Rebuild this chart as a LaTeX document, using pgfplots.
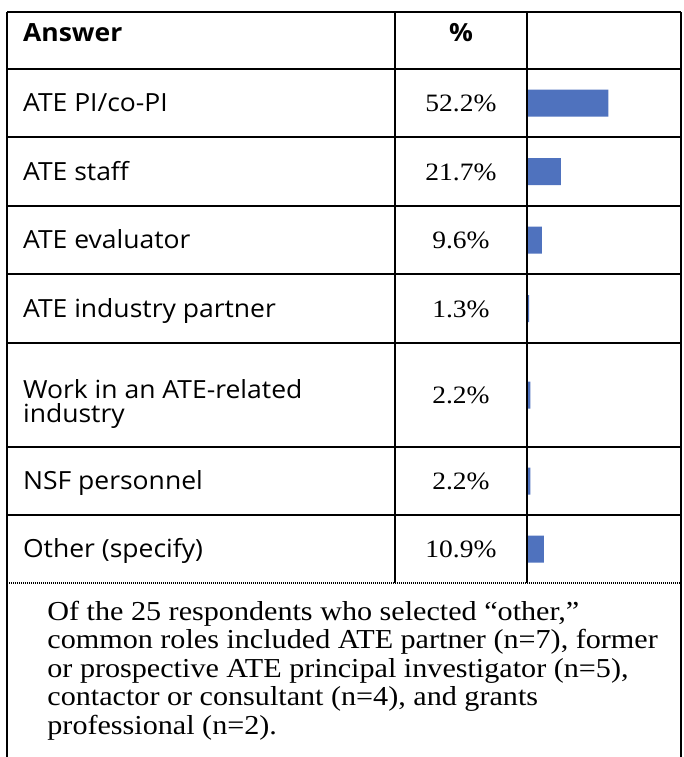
\documentclass[border=0pt]{standalone}
\usepackage{pgfplots}
\pgfplotsset{compat=1.18}
\usepackage{fontspec}
\setmainfont[FakeStretch=1.1]{Liberation Serif}
\newfontfamily\tsans[FakeStretch=1.06]{Open Sans}
\definecolor{barblue}{RGB}{79,114,190}
\begin{document}
\begin{tikzpicture}
% bars (one axis, placed in the third column)
\begin{axis}[
  at={(263.5pt,-291.5pt)}, anchor=south west,
  scale only axis, width=77pt, height=257pt,
  xmin=0, xmax=98.9, ymin=-583, ymax=-69,
  hide axis, xbar, bar width=13.5pt,
]
\addplot[draw=none, fill=barblue] coordinates {
  (52.2,-103) (21.7,-171.5) (9.6,-240) (1.3,-308.5) (2.2,-395) (2.2,-481) (10.9,-549)
};
\end{axis}
\begin{scope}[x=0.5pt,y=-0.5pt]
  \path[use as bounding box] (0,0) rectangle (684,757);
  \begin{scope}[line width=1.15pt, black]
    \draw (7,12) -- (681,12);
    \foreach \yy in {69,137,206,274,343,447,515} \draw (7,\yy) -- (681,\yy);
    \draw (7,12) -- (7,757);
    \draw (681,12) -- (681,757);
    \draw (395,12) -- (395,583);
    \draw (527,12) -- (527,583);
  \end{scope}
  \draw[line width=0.8pt, dash pattern=on 0.6pt off 0.4pt] (7,583) -- (681,583);
  % header
  \node[anchor=base west, inner sep=0pt, font=\tsans\bfseries\fontsize{12.5}{14}\selectfont] at (22.7,41) {Answer};
  \node[anchor=base, inner sep=0pt, font=\tsans\bfseries\fontsize{12.5}{14}\selectfont] at (461,41) {\%};
  % row labels
  \begin{scope}[every node/.style={anchor=base west, inner sep=0pt, font=\tsans\fontsize{12.5}{14}\selectfont}]
    \node at (22.7,111.5) {ATE PI/co-PI};
    \node at (22.7,180) {ATE staff};
    \node at (22.7,248.5) {ATE evaluator};
    \node at (22.7,317) {ATE industry partner};
    \node at (22.7,398) {Work in an ATE-related};
    \node at (22.7,422) {industry};
    \node at (22.7,489.5) {NSF personnel};
    \node at (22.7,557.5) {Other (specify)};
  \end{scope}
  % percentages
  \begin{scope}[every node/.style={anchor=base, inner sep=0pt, font=\fontsize{12.5}{14}\selectfont}]
    \node at (461,111.5) {52.2\%};
    \node at (461,180) {21.7\%};
    \node at (461,248.5) {9.6\%};
    \node at (461,317) {1.3\%};
    \node at (461,403.5) {2.2\%};
    \node at (461,489.5) {2.2\%};
    \node at (461,557.5) {10.9\%};
  \end{scope}
  % note
  \begin{scope}[every node/.style={anchor=base west, inner sep=0pt, font=\fontsize{13.7}{14}\selectfont}]
    \node at (47,620) {Of the 25 respondents who selected ``other,''};
    \node at (47,648.5) {common roles included ATE partner (n=7), former};
    \node at (47,677) {or prospective ATE principal investigator (n=5),};
    \node at (47,705.5) {contactor or consultant (n=4), and grants};
    \node at (47,734) {professional (n=2).};
  \end{scope}
\end{scope}
\end{tikzpicture}
\end{document}
